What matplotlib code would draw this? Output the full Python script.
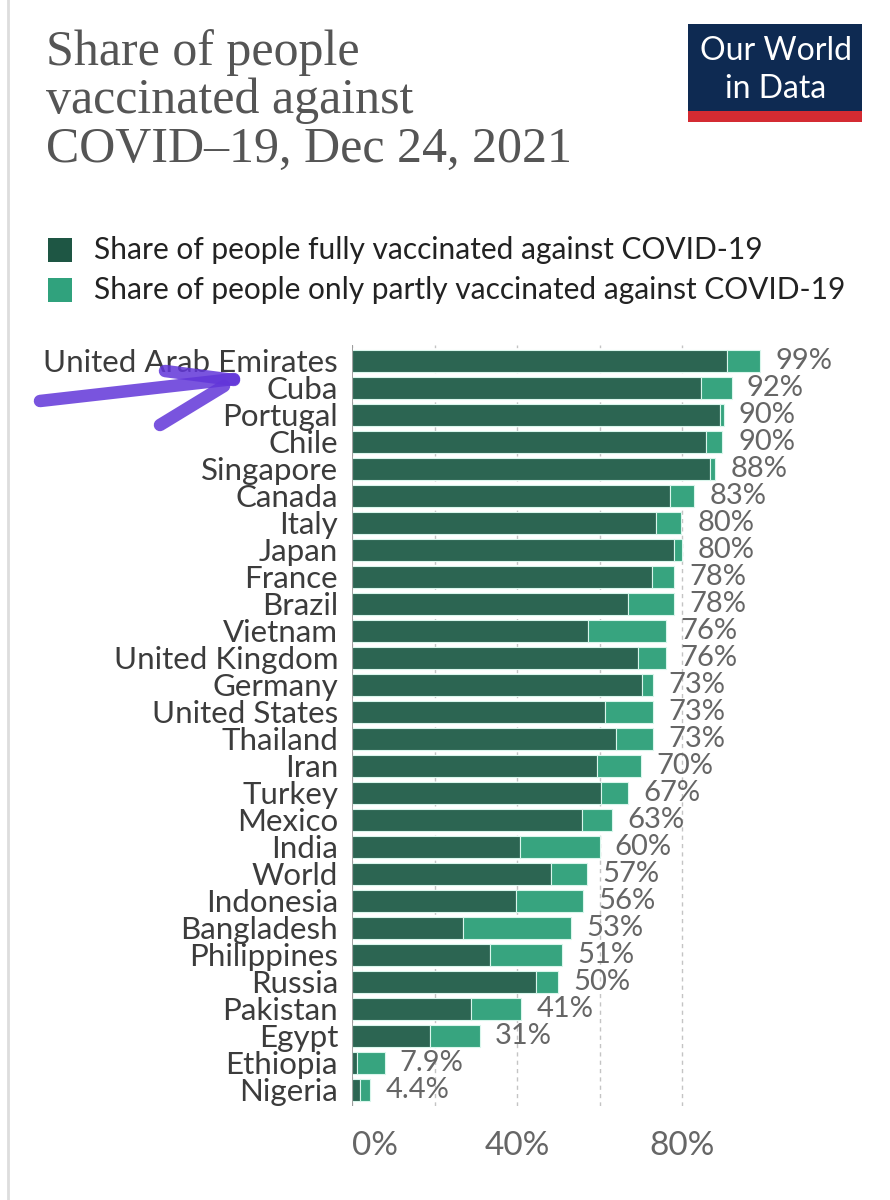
import matplotlib
matplotlib.use("Agg")
import matplotlib.pyplot as plt
from matplotlib.patches import Rectangle
from matplotlib.lines import Line2D

countries = ["United Arab Emirates", "Cuba", "Portugal", "Chile", "Singapore",
             "Canada", "Italy", "Japan", "France", "Brazil", "Vietnam",
             "United Kingdom", "Germany", "United States", "Thailand", "Iran",
             "Turkey", "Mexico", "India", "World", "Indonesia", "Bangladesh",
             "Philippines", "Russia", "Pakistan", "Egypt", "Ethiopia", "Nigeria"]
fully = [90.9, 84.5, 89.3, 85.7, 86.9, 77.2, 73.8, 78.0, 72.7, 66.8, 57.3,
         69.3, 70.3, 61.4, 64.1, 59.4, 60.4, 55.7, 40.8, 48.2, 39.7, 26.9,
         33.5, 44.7, 28.9, 18.8, 1.1, 1.9]
partly = [8.1, 7.5, 0.9, 3.9, 1.0, 5.8, 6.0, 2.0, 5.3, 11.2, 18.7,
          6.7, 2.7, 11.6, 8.9, 10.6, 6.6, 7.3, 19.2, 8.8, 16.3, 26.1,
          17.5, 5.3, 12.1, 12.2, 6.8, 2.5]
totals = [99, 92, 90, 90, 88, 83, 80, 80, 78, 78, 76, 76, 73, 73, 73, 70,
          67, 63, 60, 57, 56, 53, 51, 50, 41, 31, 7.9, 4.4]

title_lines = ["Share of people", "vaccinated against", "COVID\u201319, Dec 24, 2021"]
legend_labels = ["Share of people fully vaccinated against COVID-19",
                 "Share of people only partly vaccinated against COVID-19"]

DARK = "#2c6552"
LIGHT = "#37a47f"
W, H = 890, 1200


def fx(x):
    return x / W


def fy(y):
    return 1 - y / H


fig = plt.figure(figsize=(8.9, 12), dpi=100)
fig.patch.set_facecolor("white")

# faint screenshot edge on the left
fig.add_artist(Line2D([fx(8), fx(8)], [0, 1], color="#dddddd", lw=2))

# title
for i, line in enumerate(title_lines):
    fig.text(fx(46), fy(65 + 48.5 * i), line, family="Liberation Serif",
             fontsize=36, color="#555555", va="baseline", ha="left")

# logo
fig.add_artist(Rectangle((fx(688), fy(122)), fx(862) - fx(688), fy(24) - fy(122),
                         transform=fig.transFigure, color="#0e2a52", lw=0))
fig.add_artist(Rectangle((fx(688), fy(122)), fx(862) - fx(688), fy(111) - fy(122),
                         transform=fig.transFigure, color="#d42b32", lw=0))
fig.text(fx(776), fy(51), "Our World", family="Lato", fontsize=23, color="white",
         ha="center", va="center")
fig.text(fx(776), fy(89), "in Data", family="Lato", fontsize=23, color="white",
         ha="center", va="center")

# legend
for i, (lab, col) in enumerate(zip(legend_labels, ["#1e5644", "#30a27d"])):
    yc = 250 + 40 * i
    fig.add_artist(Rectangle((fx(48), fy(yc + 12)), fx(72) - fx(48), fy(yc - 12) - fy(yc + 12),
                             transform=fig.transFigure, color=col, lw=0))
    fig.text(fx(94), fy(yc), lab, family="Lato", fontsize=21.5, color="#222222",
             ha="left", va="center")

# chart
ax = fig.add_axes([fx(352), fy(1106), 412.5 / W, (1106 - 344.8) / H])
ypos = list(range(len(countries)))
ax.barh(ypos, fully, height=0.81, color=DARK, edgecolor="#d9f6ec", lw=0.8, zorder=3)
ax.barh(ypos, partly, left=fully, height=0.81, color=LIGHT, edgecolor="#d9f6ec",
        lw=0.8, zorder=3)

for y, t in zip(ypos, totals):
    ax.annotate(f"{t:g}%", xy=(t, y), xytext=(11, 0), textcoords="offset points",
                va="center", ha="left", family="Lato", fontsize=21, color="#666666",
                annotation_clip=False)

ax.set_xlim(0, 100)
ax.set_ylim(27.6, -0.6)
ax.set_yticks(ypos)
ax.set_yticklabels(countries, family="Lato", fontsize=22.5, color="#3c3c3c")
ax.set_xticks([0, 20, 40, 60, 80])
ax.set_xticklabels(["0%", "", "40%", "", "80%"], family="Lato", fontsize=24,
                   color="#666666")
ax.get_xticklabels()[0].set_horizontalalignment("left")
ax.tick_params(axis="y", length=0, pad=10)
ax.tick_params(axis="x", length=0, pad=18)
ax.grid(axis="x", linestyle=(0, (3, 3)), color="#c4c4c4", lw=1, zorder=0)
ax.axvline(0, color="#999999", lw=1.3, zorder=4)
for s in ax.spines.values():
    s.set_visible(False)

# hand-drawn purple arrow
arrow_col = "#6236d9"
strokes = [([40, 234], [401, 379]), ([165, 234], [371, 380]), ([160, 224], [425, 386])]
for xs, ys in strokes:
    fig.add_artist(Line2D([fx(v) for v in xs], [fy(v) for v in ys], color=arrow_col,
                          lw=9, alpha=0.85, solid_capstyle="round"))

fig.savefig("out.png", dpi=100, facecolor="white")
